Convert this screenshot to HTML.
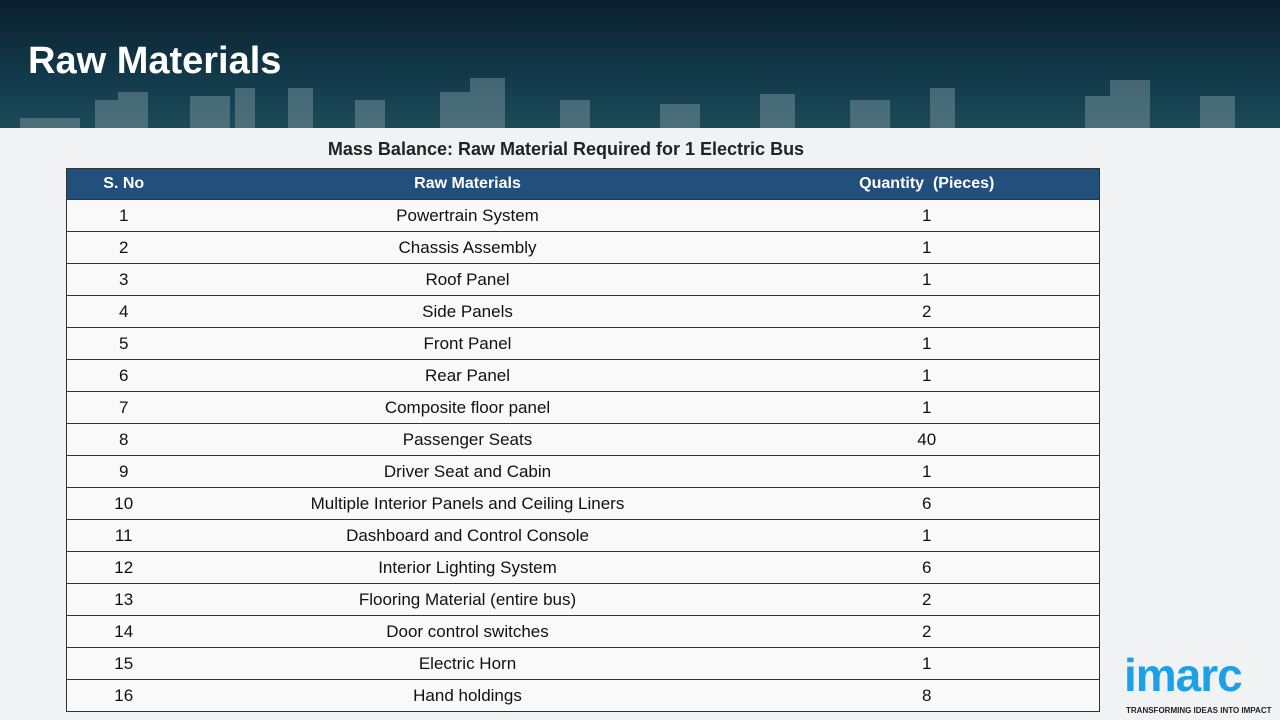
<!DOCTYPE html>
<html><head><meta charset="utf-8"><style>
body{margin:0;width:1280px;height:720px;overflow:hidden;background:#f1f2f3;font-family:"Liberation Sans",sans-serif;position:relative}
#banner{position:absolute;left:0;top:0;width:1280px;height:128px;background:linear-gradient(180deg,#0b1f2e 0%,#123a4a 60%,#1d4a58 100%)}
#title{position:absolute;left:28px;top:40px;color:#fff;font-weight:bold;font-size:38px}
#sub{position:absolute;left:0;width:1132px;top:139px;text-align:center;font-weight:bold;font-size:18px;color:#222}
table{position:absolute;left:66px;top:168px;width:1034px;border-collapse:collapse;font-size:17px;line-height:18px;color:#111;border:1px solid #333}
th{background:#234f7d;color:#fff;height:30px;font-size:16px;font-weight:bold;padding:0}
td{height:31px;border-top:1px solid #333;padding:0;text-align:center;background:rgba(255,255,255,0.55)}
#logo{position:absolute;left:1124px;top:652px;color:#1da1e6;font-weight:bold;font-size:46px;letter-spacing:-1px;line-height:46px}
#tag{position:absolute;left:1126px;top:706px;font-size:8px;font-weight:bold;color:#222}
</style></head><body>
<div id="banner">
<svg width="1280" height="128" style="position:absolute;left:0;top:0">
<g fill="#8fa8b0" opacity="0.4">
<rect x="20" y="118" width="60" height="10"/><rect x="95" y="100" width="30" height="28"/><rect x="118" y="92" width="30" height="36"/><rect x="190" y="96" width="40" height="32"/><rect x="235" y="88" width="20" height="40"/><rect x="288" y="88" width="25" height="40"/><rect x="355" y="100" width="30" height="28"/><rect x="440" y="92" width="30" height="36"/><rect x="470" y="78" width="35" height="50"/><rect x="560" y="100" width="30" height="28"/><rect x="660" y="104" width="40" height="24"/><rect x="760" y="94" width="35" height="34"/><rect x="850" y="100" width="40" height="28"/><rect x="930" y="88" width="25" height="40"/><rect x="1085" y="96" width="30" height="32"/><rect x="1110" y="80" width="40" height="48"/><rect x="1200" y="96" width="35" height="32"/>
</g></svg>
<div id="title">Raw Materials</div>
</div>
<div id="sub">Mass Balance: Raw Material Required for 1 Electric Bus</div>
<table>
<colgroup><col style="width:114px"><col style="width:574px"><col></colgroup>
<tr><th>S. No</th><th>Raw Materials</th><th>Quantity &nbsp;(Pieces)</th></tr>
<tr><td>1</td><td>Powertrain System</td><td>1</td></tr>
<tr><td>2</td><td>Chassis Assembly</td><td>1</td></tr>
<tr><td>3</td><td>Roof Panel</td><td>1</td></tr>
<tr><td>4</td><td>Side Panels</td><td>2</td></tr>
<tr><td>5</td><td>Front Panel</td><td>1</td></tr>
<tr><td>6</td><td>Rear Panel</td><td>1</td></tr>
<tr><td>7</td><td>Composite floor panel</td><td>1</td></tr>
<tr><td>8</td><td>Passenger Seats</td><td>40</td></tr>
<tr><td>9</td><td>Driver Seat and Cabin</td><td>1</td></tr>
<tr><td>10</td><td>Multiple Interior Panels and Ceiling Liners</td><td>6</td></tr>
<tr><td>11</td><td>Dashboard and Control Console</td><td>1</td></tr>
<tr><td>12</td><td>Interior Lighting System</td><td>6</td></tr>
<tr><td>13</td><td>Flooring Material (entire bus)</td><td>2</td></tr>
<tr><td>14</td><td>Door control switches</td><td>2</td></tr>
<tr><td>15</td><td>Electric Horn</td><td>1</td></tr>
<tr><td>16</td><td>Hand holdings</td><td>8</td></tr>
</table>
<div id="logo">imarc</div>
<div id="tag">TRANSFORMING IDEAS INTO IMPACT</div>
</body></html>
